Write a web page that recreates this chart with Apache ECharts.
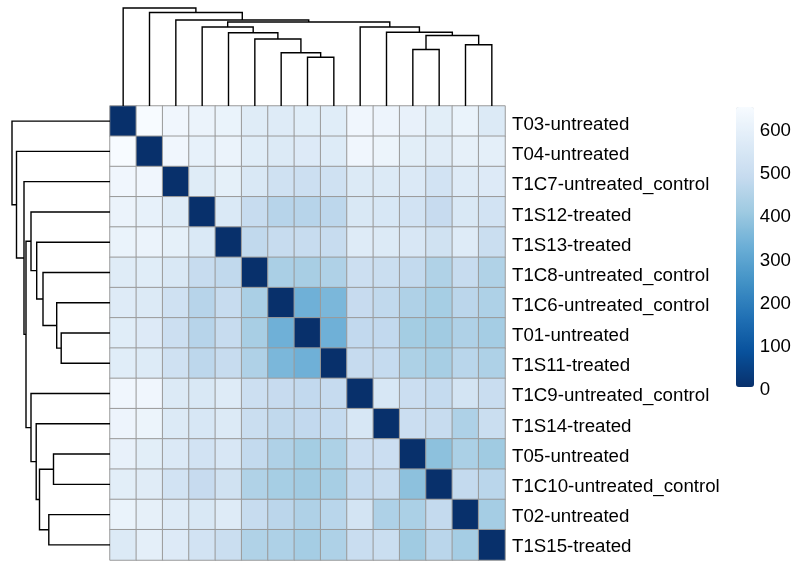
<!DOCTYPE html>
<html><head><meta charset="utf-8">
<script src="https://cdn.jsdelivr.net/npm/echarts@6/dist/echarts.min.js"></script>
<style>html,body{margin:0;padding:0;background:#fff}#c{width:794px;height:562px}</style>
</head><body><div id="c"></div>
<script>
// sample order (rows top->bottom, columns left->right)
const samples = [
  'T03-untreated','T04-untreated','T1C7-untreated_control','T1S12-treated','T1S13-treated',
  'T1C8-untreated_control','T1C6-untreated_control','T01-untreated','T1S11-treated',
  'T1C9-untreated_control','T1S14-treated','T05-untreated','T1C10-untreated_control',
  'T02-untreated','T1S15-treated'
];
// sample-to-sample distances
const distances = [
  [0,648,625,610,605,570,568,575,575,625,615,598,580,605,560],
  [648,0,625,595,610,575,560,562,565,625,612,580,572,592,588],
  [625,625,0,570,590,550,515,505,515,560,560,558,528,568,562],
  [610,595,570,0,555,490,455,455,468,550,545,528,488,550,525],
  [605,610,590,555,0,475,490,490,490,567,560,548,520,568,500],
  [570,575,550,490,475,0,430,425,440,505,500,480,442,490,442],
  [568,560,515,455,490,430,0,330,350,488,475,440,422,463,437],
  [575,562,505,455,490,425,330,0,330,478,478,418,412,440,420],
  [575,565,515,468,490,440,350,330,0,486,484,436,423,460,438],
  [625,625,560,550,567,505,488,478,486,0,545,502,484,530,495],
  [615,612,560,545,560,500,475,478,484,545,0,502,490,437,500],
  [598,580,558,528,548,480,440,418,436,502,502,0,378,432,410],
  [580,572,528,488,520,442,422,412,423,484,490,378,0,481,461],
  [605,592,568,550,568,490,463,440,460,530,437,432,481,0,420],
  [560,588,562,525,500,442,437,420,438,495,500,410,461,420,0]
];
// hierarchical clustering merges: a child is a sample name (leaf) or an earlier merge index
const mergeLeft  = ['T01-untreated','T1C6-untreated_control','T05-untreated','T02-untreated','T1C8-untreated_control',2,'T1S13-treated','T1S14-treated','T1S12-treated','T1C9-untreated_control',8,'T1C7-untreated_control','T04-untreated','T03-untreated'];
const mergeRight = ['T1S11-treated',0,'T1C10-untreated_control','T1S15-treated',1,3,4,5,6,7,9,10,11,12];
const mergeHeight = [48.8,53.3,56.5,61.2,67,70.5,73.3,73.8,79,79,84,86,93.5,98];
const legendTicks = [0,100,200,300,400,500,600];
const blues = ['#08306B','#08519C','#2171B5','#4292C6','#6BAED6','#9ECAE1','#C6DBEF','#DEEBF7','#F7FBFF'];

const heatData = [];
distances.forEach((row, r) => row.forEach((v, c) => heatData.push([c, r, v])));
const maxVal = Math.max(...distances.flat());

const nodePos = [], segs = [];
function childInfo(c) {
  if (typeof c === 'string') return [samples.indexOf(c), 0];
  return [nodePos[c], mergeHeight[c]];
}
for (let i = 0; i < mergeHeight.length; i++) {
  const [pa, ha] = childInfo(mergeLeft[i]);
  const [pb, hb] = childInfo(mergeRight[i]);
  nodePos[i] = (pa + pb) / 2;
  segs.push([pa, ha, pb, hb, mergeHeight[i]]);
}

const FONT = 'Liberation Sans, Arial, sans-serif';
const lineStyle = {stroke: '#000', lineWidth: 1.4, fill: null};
const chart = echarts.init(document.getElementById('c'), null, {renderer: 'canvas'});
chart.setOption({
  animation: false,
  backgroundColor: '#fff',
  grid: [
    {left: 110, top: 106, width: 395, height: 454},
    {left: 10, top: 106, width: 100, height: 454},
    {left: 110, top: 6, width: 395, height: 100},
    {left: 736, top: 110, width: 18, height: 280},
    {left: 110, top: 110, width: 395, height: 454}
  ],
  xAxis: [
    {type: 'category', gridIndex: 0, data: samples, show: false},
    {type: 'value', gridIndex: 1, min: 0, max: 100, inverse: true, show: false},
    {type: 'value', gridIndex: 2, min: -0.5, max: 14.5, show: false},
    {type: 'value', gridIndex: 3, min: 0, max: 1, show: false},
    {type: 'category', gridIndex: 4, data: samples, show: false}
  ],
  yAxis: [
    {type: 'category', gridIndex: 0, data: samples, inverse: true, show: false},
    {type: 'value', gridIndex: 1, min: -0.5, max: 14.5, inverse: true, show: false},
    {type: 'value', gridIndex: 2, min: 0, max: 100, show: false},
    {type: 'value', gridIndex: 3, min: 0, max: maxVal, interval: 100, position: 'right',
     axisLine: {show: false}, axisTick: {show: false}, splitLine: {show: false},
     axisLabel: {margin: 7, fontSize: 18.7, color: '#000', fontFamily: FONT,
       formatter: v => legendTicks.includes(v) ? String(v) : ''}},
    {type: 'category', gridIndex: 4, data: samples, inverse: true, position: 'right',
     axisLine: {show: false}, axisTick: {show: false}, splitLine: {show: false},
     axisLabel: {margin: 7, fontSize: 18.7, color: '#000', fontFamily: FONT}}
  ],
  visualMap: {
    type: 'continuous', seriesIndex: 0, min: 0, max: maxVal, calculable: false,
    inRange: {color: blues}, left: 736, top: 107, itemWidth: 18, itemHeight: 280,
    padding: 0, text: null, orient: 'vertical'
  },
  series: [
    {type: 'heatmap', xAxisIndex: 0, yAxisIndex: 0, data: heatData,
     itemStyle: {borderColor: '#9a9a9a', borderWidth: 1}, emphasis: {disabled: true}},
    {type: 'custom', xAxisIndex: 1, yAxisIndex: 1, data: segs, silent: true,
     renderItem: (p, api) => {
       const pa = api.value(0), ha = api.value(1), pb = api.value(2), hb = api.value(3), h = api.value(4);
       return {type: 'polyline', shape: {points: [api.coord([ha, pa]), api.coord([h, pa]), api.coord([h, pb]), api.coord([hb, pb])]}, style: lineStyle};
     }},
    {type: 'custom', xAxisIndex: 2, yAxisIndex: 2, data: segs, silent: true,
     renderItem: (p, api) => {
       const pa = api.value(0), ha = api.value(1), pb = api.value(2), hb = api.value(3), h = api.value(4);
       return {type: 'polyline', shape: {points: [api.coord([pa, ha]), api.coord([pa, h]), api.coord([pb, h]), api.coord([pb, hb])]}, style: lineStyle};
     }}
  ]
});
</script></body></html>
